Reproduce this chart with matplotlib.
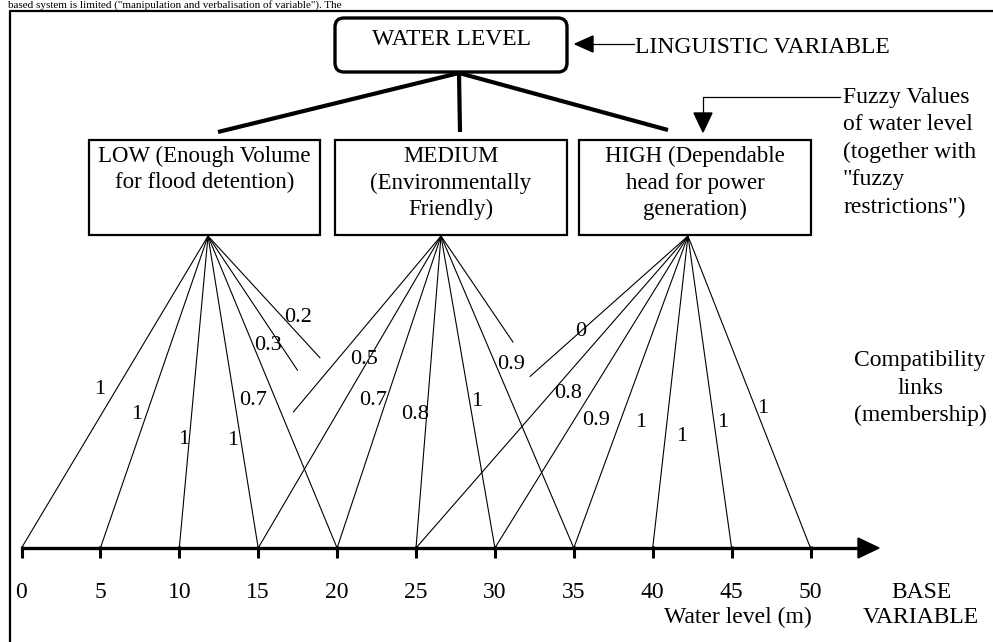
import matplotlib
matplotlib.use("Agg")
import matplotlib.pyplot as plt
import matplotlib.transforms as mtransforms
from matplotlib.patches import FancyBboxPatch, Rectangle, Polygon

# ---- chart content -------------------------------------------------------
levels = [0, 5, 10, 15, 20, 25, 30, 35, 40, 45, 50]
axis_title = "Water level (m)"
base_label = ["BASE", "VARIABLE"]
linguistic_var = "WATER LEVEL"
linguistic_note = "LINGUISTIC VARIABLE"
fuzzy_note = ["Fuzzy Values", "of water level", "(together with", "\"fuzzy", "restrictions\")"]
compat_note = ["Compatibility", "links", "(membership)"]
cut_line = "based system is limited (\"manipulation and verbalisation of variable\"). The"

fuzzy_names = [
    ["LOW (Enough Volume", "for flood detention)"],
    ["MEDIUM", "(Environmentally", "Friendly)"],
    ["HIGH (Dependable", "head for power", "generation)"],
]

low_levels = [0, 5, 10, 15, 20, 25, 30]
low_mu = ["1", "1", "1", "1", "0.7", "0.3", "0.2"]
med_levels = [10, 15, 20, 25, 30, 35, 40]
med_mu = [None, "0.5", "0.7", "0.8", "1", "0.9", None]
high_levels = [20, 25, 30, 35, 40, 45, 50]
high_mu = ["0", "0.8", "0.9", "1", "1", "1", "1"]

# ---- layout (pixels, top-left origin) -----------------------------------
W, H = 993, 642
X0, PPM = 21.5, 15.78          # pixel column of 0 m, pixels per metre
AXIS_Y, FAN_Y = 548, 236
boxes = [(89, 140, 231, 95), (335, 140, 232, 95), (579, 140, 232, 95)]
fan_x = [208, 441, 688]
# how much of each link is drawn (some are cut short in the original)
low_len = [1, 1, 1, 1, 1, 0.43, 0.39]
med_len = [0.564, 1, 1, 1, 1, 1, 0.34]
high_len = [0.45, 1, 1, 1, 1, 1, 1]
# label spot: (fraction along link, x offset px)
low_lab = [(0.484, -18), (0.564, -11), (0.644, -6), (0.647, -8), (0.519, -22), (0.343, -11), (0.253, 17)]
med_lab = [None, (0.388, -6), (0.519, -14), (0.564, -12), (0.522, 8), (0.404, 16), None]
high_lab = [(0.298, -3), (0.497, 15), (0.583, 21), (0.59, 20), (0.635, 16), (0.59, 9), (0.545, 8)]

plt.rcParams["font.family"] = ["Liberation Serif", "DejaVu Serif"]
FS = 17

fig = plt.figure(figsize=(W / 100, H / 100), dpi=100)
ax = fig.add_axes([0, 0, 1, 1])
ax.set_xlim(-X0 / PPM, (W - X0) / PPM)
ax.set_ylim(H, 0)
ax.axis("off")

# pixel transform for the layout pieces
pix = mtransforms.Affine2D().scale(1, -1).translate(0, H)


def to_lvl(px):
    return ax.transData.inverted().transform(pix.transform((px, 0)))[0]


# frame and the sentence above it
ax.plot([10, 10, W], [H, 11, 11], transform=pix, color="k", lw=1.6)
ax.text(8, 8, cut_line, transform=pix, fontsize=8, va="baseline", ha="left")

# linguistic variable box
ax.add_patch(FancyBboxPatch((335, 18), 232, 54, transform=pix,
                            boxstyle="round,pad=0,rounding_size=9",
                            fc="white", ec="k", lw=2.4))
ax.text(451, 45, linguistic_var, transform=pix, fontsize=FS, ha="center", va="baseline")
ax.plot([593, 634], [44, 44], transform=pix, color="k", lw=0.9)
ax.add_patch(Polygon([(575, 44), (593, 36), (593, 52)], closed=True, transform=pix, color="k"))
ax.text(635, 53, linguistic_note, transform=pix, fontsize=FS, ha="left", va="baseline")

# thick branches
for x_end, y_end in [(218, 132), (460, 132), (668, 130)]:
    ax.plot([459, x_end], [73, y_end], transform=pix, color="k", lw=3, solid_capstyle="butt")

# fuzzy value boxes
for (bx, by, bw, bh), lines in zip(boxes, fuzzy_names):
    ax.add_patch(Rectangle((bx, by), bw, bh, transform=pix, fc="white", ec="k", lw=1.6))
    for i, line in enumerate(lines):
        ax.text(bx + bw / 2, 162 + 26.5 * i, line, transform=pix, fontsize=FS - 0.5,
                ha="center", va="baseline")

# fuzzy values note with arrow
ax.plot([840, 703, 703], [97, 97, 113], transform=pix, color="k", lw=0.9)
ax.add_patch(Polygon([(694, 113), (712, 113), (703, 132)], closed=True, transform=pix, color="k"))
for i, line in enumerate(fuzzy_note):
    ax.text(843, 103 + 27.5 * i, line, transform=pix, fontsize=FS, ha="left", va="baseline")

for i, line in enumerate(compat_note):
    ax.text(920, 366 + 27.5 * i, line, transform=pix, fontsize=FS, ha="center", va="baseline")


# compatibility links
def draw_fan(ox_px, lv, mu, frac, lab):
    ox = to_lvl(ox_px)
    for l, m, f, spot in zip(lv, mu, frac, lab):
        ax.plot([ox, ox + f * (l - ox)], [FAN_Y, FAN_Y + f * (AXIS_Y - FAN_Y)],
                color="k", lw=0.8)
        if m is None:
            continue
        t, dx = spot
        ax.annotate(m, xy=(ox + t * (l - ox), FAN_Y + t * (AXIS_Y - FAN_Y)),
                    xytext=(dx, 0), textcoords="offset pixels", fontsize=16,
                    ha="center", va="center_baseline")


draw_fan(fan_x[0], low_levels, low_mu, low_len, low_lab)
draw_fan(fan_x[1], med_levels, med_mu, med_len, med_lab)
draw_fan(fan_x[2], high_levels, high_mu, high_len, high_lab)

# base variable axis
ax.plot([levels[0], to_lvl(860)], [AXIS_Y, AXIS_Y], color="k", lw=2.4, solid_capstyle="butt")
ax.add_patch(Polygon([(858, AXIS_Y - 10), (879, AXIS_Y), (858, AXIS_Y + 10)],
                     closed=True, transform=pix, color="k"))
ax.vlines(levels, AXIS_Y - 2, AXIS_Y + 10, color="k", lw=2.2)
for l in levels:
    ax.text(l, 598, str(l), fontsize=FS, ha="center", va="baseline")
ax.text(738, 623, axis_title, transform=pix, fontsize=FS, ha="center", va="baseline")
ax.text(921, 598, base_label[0], transform=pix, fontsize=FS, ha="center", va="baseline")
ax.text(921, 623, base_label[1], transform=pix, fontsize=FS, ha="center", va="baseline")

fig.savefig("out.png", dpi=100)
plt.close(fig)
